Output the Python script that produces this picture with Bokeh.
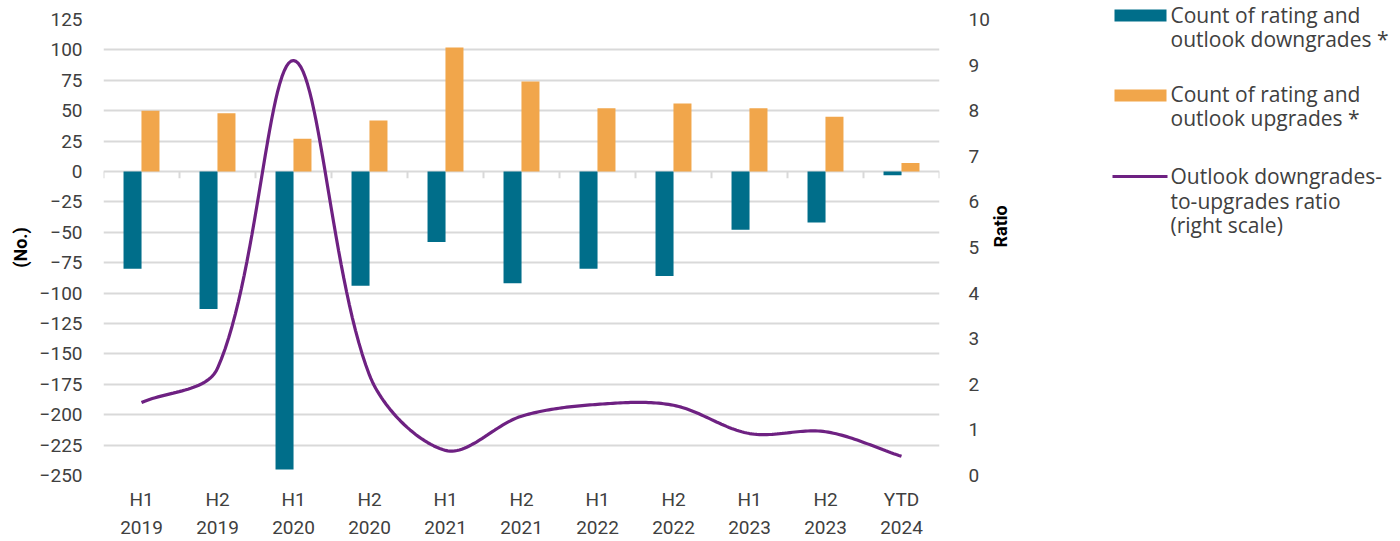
import math
import numpy as np
from bokeh.plotting import figure
from bokeh.models import Range1d, LinearAxis, FixedTicker, ColumnDataSource, Plot
from bokeh.layouts import row
from bokeh.transform import dodge
from bokeh.core.properties import value
from bokeh.embed import file_html
from bokeh.resources import INLINE

# ---------------- data ----------------
periods = ["H1", "H2", "H1", "H2", "H1", "H2", "H1", "H2", "H1", "H2", "YTD"]
years = ["2019", "2019", "2020", "2020", "2021", "2021", "2022", "2022", "2023", "2023", "2024"]
downgrades = [-80, -113, -245, -94, -58, -92, -80, -86, -48, -42, -3]
upgrades = [50, 48, 27, 42, 102, 74, 52, 56, 52, 45, 7]
ratio = [1.6, 2.35, 9.1, 2.2, 0.55, 1.3, 1.56, 1.54, 0.92, 0.96, 0.42]
left_ticks = list(range(-250, 126, 25))
right_ticks = list(range(0, 11))

series_names = ["Count of rating and\noutlook downgrades *",
                "Count of rating and\noutlook upgrades *",
                "Outlook downgrades-\nto-upgrades ratio\n(right scale)"]

# ---------------- style ----------------
BLUE = "#006E8A"
ORANGE = "#F1A64B"
PURPLE = "#6E2182"
GRID = "#D9D9D9"
TXT = "#404040"
FONT = "Roboto"
FS = "19px"

FRAME_W, FRAME_H = 836, 456
TOP, BOTTOM, LEFT, RIGHT = 19, 86, 103, 90
TOTAL_H = TOP + FRAME_H + BOTTOM

idx = list(range(len(periods)))
X_START, X_END = -0.5, len(periods) - 0.5
Y_START, Y_END = -250, 125
R_START, R_END = 0, 10

# frames of plots in a row are aligned; opt out if possible, else extend the frame to the top
HAS_FA = hasattr(Plot, "frame_align")
PAD = 0 if HAS_FA else TOP
Y_VIEW_END = Y_END + PAD * (Y_END - Y_START) / FRAME_H
R_VIEW_END = R_END + PAD * (R_END - R_START) / FRAME_H


def smooth(xs, ys, sx, sy, n=30, k=1.0 / 3.0):
    """Smoothed line through the points (chord-length weighted Bezier), computed in screen space."""
    P = np.column_stack([np.asarray(xs, float) * sx, np.asarray(ys, float) * sy])
    m = len(P)
    cin = P.copy()
    cout = P.copy()
    for i in range(m):
        prv = P[i - 1] if i > 0 else P[i]
        nxt = P[i + 1] if i < m - 1 else P[i]
        dp = np.hypot(*(P[i] - prv))
        dn = np.hypot(*(nxt - P[i]))
        if dp + dn == 0:
            continue
        T = nxt - prv
        cout[i] = P[i] + T * k * dn / (dp + dn)
        cin[i] = P[i] - T * k * dp / (dp + dn)
    out = []
    for i in range(m - 1):
        t = np.linspace(0, 1, n, endpoint=(i == m - 2))[:, None]
        p1, c1, c2, p2 = P[i], cout[i], cin[i + 1], P[i + 1]
        out.append(((1 - t) ** 3) * p1 + 3 * ((1 - t) ** 2) * t * c1 + 3 * (1 - t) * t ** 2 * c2 + t ** 3 * p2)
    pts = np.vstack(out)
    return pts[:, 0] / sx, pts[:, 1] / sy


p = figure(frame_width=FRAME_W, frame_height=FRAME_H + PAD, title=None,
           x_range=Range1d(X_START, X_END), y_range=Range1d(Y_START, Y_VIEW_END),
           output_backend="svg", toolbar_location=None,
           x_axis_location=None,
           min_border_left=LEFT, min_border_top=TOP - PAD, min_border_bottom=BOTTOM, min_border_right=RIGHT)
if HAS_FA:
    p.frame_align = False
p.outline_line_color = None
p.background_fill_color = None
p.border_fill_color = None
p.extra_y_ranges = {"ratio": Range1d(R_START, R_VIEW_END)}

p.xgrid.visible = False
p.ygrid.ticker = FixedTicker(ticks=left_ticks)
p.ygrid.grid_line_color = GRID
p.ygrid.grid_line_width = 2

ya = p.yaxis[0]
ya.ticker = FixedTicker(ticks=left_ticks)
ya.axis_line_color = None
ya.major_tick_line_color = None
ya.minor_tick_line_color = None
ya.major_tick_out = 0
ya.major_tick_in = 0
ya.major_label_standoff = 21
ya.major_label_text_font = FONT
ya.major_label_text_font_size = FS
ya.major_label_text_color = TXT
ya.axis_label = "(No.)"
ya.axis_label_text_font = FONT
ya.axis_label_text_font_size = "18px"
ya.axis_label_text_font_style = "bold"
ya.axis_label_text_color = "#000000"
ya.axis_label_standoff = 6

ra = LinearAxis(y_range_name="ratio", ticker=FixedTicker(ticks=right_ticks))
ra.axis_line_color = None
ra.major_tick_line_color = None
ra.minor_tick_line_color = None
ra.major_tick_out = 0
ra.major_tick_in = 0
ra.major_label_standoff = 29
ra.major_label_text_font = FONT
ra.major_label_text_font_size = FS
ra.major_label_text_color = TXT
ra.axis_label = "Ratio"
ra.axis_label_text_font = FONT
ra.axis_label_text_font_size = "18px"
ra.axis_label_text_font_style = "bold"
ra.axis_label_text_color = "#000000"
ra.axis_label_standoff = 8
ra.axis_label_orientation = math.pi / 2   # read bottom-to-top like the reference
p.add_layout(ra, "right")


def cat_axis(labels, standoff):
    ax = LinearAxis(ticker=FixedTicker(ticks=idx),
                    major_label_overrides={i: s for i, s in zip(idx, labels)})
    ax.axis_line_color = None
    ax.major_tick_line_color = None
    ax.minor_tick_line_color = None
    ax.major_tick_out = 0
    ax.major_tick_in = 0
    ax.major_label_standoff = standoff
    ax.major_label_text_font = FONT
    ax.major_label_text_font_size = FS
    ax.major_label_text_color = TXT
    return ax


p.add_layout(cat_axis(periods, 12), "below")
p.add_layout(cat_axis(years, 7), "below")

# zero-line category tick marks
bounds = [i - 0.5 for i in range(len(periods) + 1)]
p.segment(x0=bounds, y0=[0] * len(bounds), x1=bounds, y1=[-5.5] * len(bounds),
          line_color=GRID, line_width=2)

src = ColumnDataSource(dict(idx=idx, down=downgrades, up=upgrades))
p.vbar(x=dodge("idx", -0.118), top="down", bottom=0, width=0.237,
       fill_color=BLUE, line_color=None, source=src)
p.vbar(x=dodge("idx", 0.118), top="up", bottom=0, width=0.237,
       fill_color=ORANGE, line_color=None, source=src)

px_per_x = FRAME_W / (X_END - X_START)
px_per_r = FRAME_H / (R_END - R_START)
sx, sy = smooth(idx, ratio, px_per_x, px_per_r)
p.line(x=sx, y=sy, y_range_name="ratio", line_color=PURPLE, line_width=3.2)

# ---------------- legend (separate panel) ----------------
MAIN_W = LEFT + FRAME_W + RIGHT
LW = 1392 - MAIN_W
LH = TOTAL_H
X0 = MAIN_W          # page x of legend panel
SHAPE_DY = 4         # keep the first legend line fully inside the page
TEXT_DY = -8 + 4     # measured baseline correction of the text glyph


def lx(xp):
    return xp - X0


def ly(yp, dy):
    return LH - (yp + dy)


lf = figure(frame_width=LW, frame_height=LH, title=None, x_range=Range1d(0, LW), y_range=Range1d(0, LH),
            output_backend="svg", toolbar_location=None, min_border=0,
            x_axis_location=None, y_axis_location=None)
if HAS_FA:
    lf.frame_align = False
lf.outline_line_color = None
lf.xgrid.visible = False
lf.ygrid.visible = False
lf.background_fill_color = None
lf.border_fill_color = None

lf.rect(x=[lx(1140)], y=[ly(11, SHAPE_DY)], width=52, height=12, fill_color=BLUE, line_color=None)
lf.rect(x=[lx(1140)], y=[ly(91, SHAPE_DY)], width=52, height=12, fill_color=ORANGE, line_color=None)
lf.segment(x0=[lx(1112)], y0=[ly(172, SHAPE_DY)], x1=[lx(1167)], y1=[ly(172, SHAPE_DY)],
           line_color=PURPLE, line_width=3.2)

baselines = [[18, 42.5], [97, 121.5], [179.5, 204, 228.5]]
tx, ty, tt = [], [], []
for name, bls in zip(series_names, baselines):
    for line, b in zip(name.split("\n"), bls):
        tx.append(lx(1170))
        ty.append(ly(b, TEXT_DY))
        tt.append(line)
lf.text(x=tx, y=ty, text=tt, text_font=value("Open Sans"), text_font_size="21px",
        text_color=TXT, text_baseline="alphabetic", text_align="left")

layout = row(p, lf)
open("out.html", "w").write(file_html(layout, INLINE))
